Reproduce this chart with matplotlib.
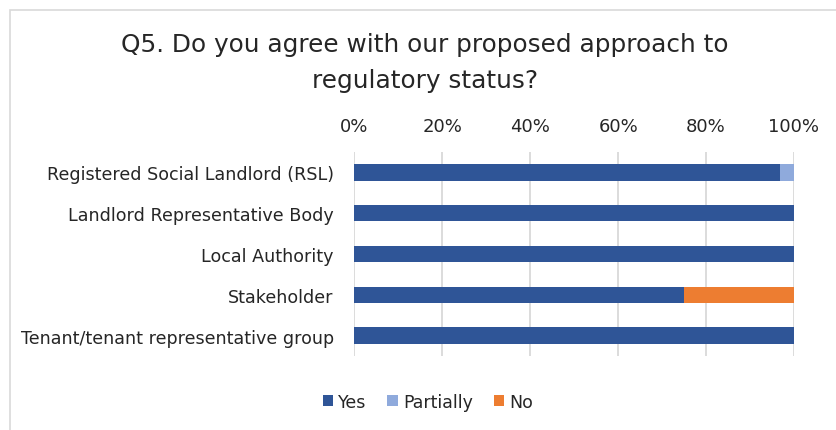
import matplotlib
matplotlib.use("Agg")
import matplotlib.pyplot as plt
from matplotlib.patches import Rectangle, Patch
import numpy as np

categories = [
    "Registered Social Landlord (RSL)",
    "Landlord Representative Body",
    "Local Authority",
    "Stakeholder",
    "Tenant/tenant representative group",
]
yes = [0.968, 1.0, 1.0, 0.75, 1.0]
partially = [0.032, 0.0, 0.0, 0.0, 0.0]
no = [0.0, 0.0, 0.0, 0.25, 0.0]
series_names = ["Yes", "Partially", "No"]
tick_values = [0, 0.2, 0.4, 0.6, 0.8, 1.0]
tick_labels = ["0%", "20%", "40%", "60%", "80%", "100%"]
title = "Q5. Do you agree with our proposed approach to\nregulatory status?"

colors = ["#2F5597", "#8FAADC", "#ED7D31"]
text_color = "#262626"
grid_color = "#D9D9D9"

W, H = 837, 431
fig = plt.figure(figsize=(W / 100, H / 100), dpi=100)
fig.patch.set_facecolor("white")

# chart frame
fig.patches.append(Rectangle((10.5 / W, -0.1), 1.2, (H - 11) / H + 0.1,
                             transform=fig.transFigure, fill=False,
                             edgecolor=grid_color, lw=1.2, clip_on=False))

ax = fig.add_axes([354.5 / W, 1 - 357 / H, (794 - 354.5) / W, (357 - 153) / H])
y = np.arange(len(categories))
left = np.zeros(len(categories))
for vals, col, name in zip([yes, partially, no], colors, series_names):
    ax.barh(y, vals, left=left, height=0.4, color=col, label=name, zorder=3)
    left = left + np.array(vals)

ax.set_xlim(0, 1.0)
ax.set_ylim(len(categories) - 0.5, -0.5)
ax.set_yticks(y)
ax.set_yticklabels(categories, fontsize=12.6, color=text_color)
ax.set_xticks(tick_values)
ax.set_xticklabels(tick_labels, fontsize=13, color=text_color)
ax.xaxis.tick_top()
ax.tick_params(axis="x", length=0, pad=12)
ax.tick_params(axis="y", length=0, pad=15)
ax.grid(axis="x", color=grid_color, lw=1.3, zorder=0)
for s in ax.spines.values():
    s.set_visible(False)

fig.text(425 / W, 1 - 63 / H, title, ha="center", va="center",
         fontsize=17.8, color=text_color, linespacing=1.6)

handles = [Patch(facecolor=c, label=n) for c, n in zip(colors, series_names)]
fig.legend(handles=handles, loc="center", bbox_to_anchor=(428 / W, 1 - 403 / H),
           ncol=3, frameon=False, fontsize=12.5, handlelength=0.6, handleheight=0.6,
           handletextpad=0.3, columnspacing=1.2, labelcolor=text_color)

fig.savefig("out.png", dpi=100)
